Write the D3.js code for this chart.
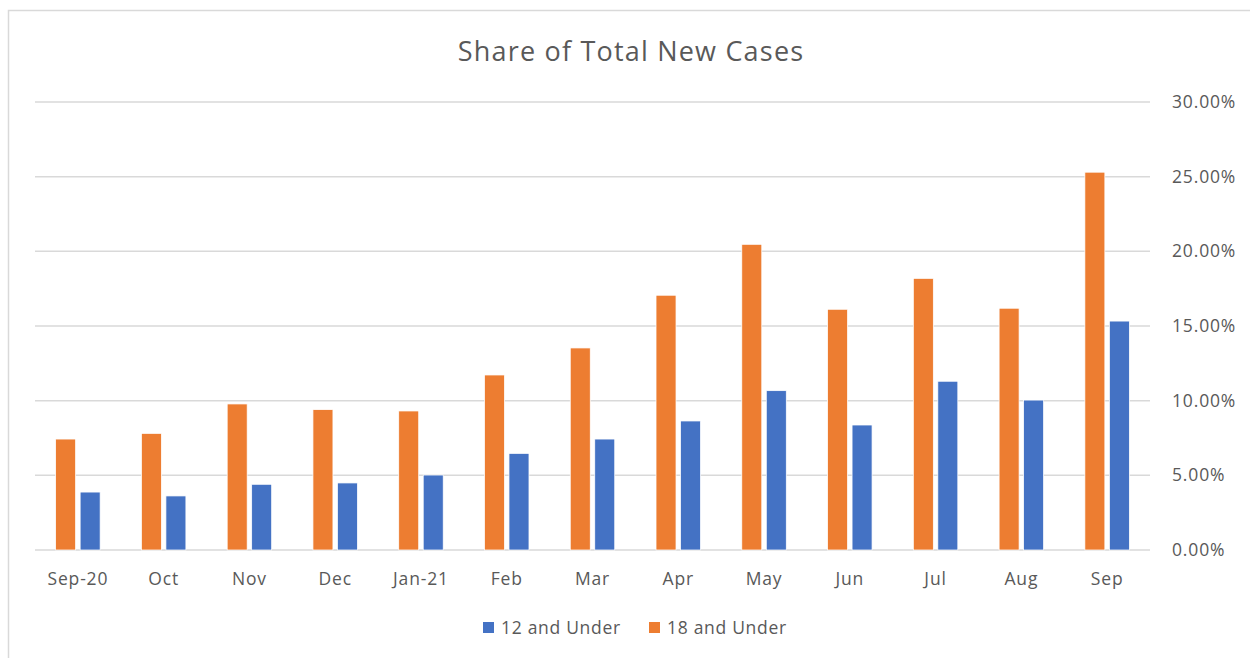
<!DOCTYPE html>
<html>
<head>
<meta charset="utf-8">
<script src="https://cdn.jsdelivr.net/npm/d3@7"></script>
<style>
  body { margin: 0; background: #fff; }
  svg text { font-family: "Open Sans", sans-serif; fill: #595959; }
</style>
</head>
<body>
<div id="chart"></div>
<script>
// chart data
var months = ["Sep-20", "Oct", "Nov", "Dec", "Jan-21", "Feb", "Mar", "Apr", "May", "Jun", "Jul", "Aug", "Sep"];
var under18 = [7.43, 7.81, 9.78, 9.40, 9.31, 11.72, 13.53, 17.06, 20.47, 16.12, 18.19, 16.19, 25.30];
var under12 = [3.88, 3.62, 4.40, 4.49, 5.02, 6.47, 7.43, 8.64, 10.67, 8.37, 11.30, 10.04, 15.33];
var yTicks = [0, 5, 10, 15, 20, 25, 30];
var seriesNames = ["12 and Under", "18 and Under"];
var colors = { "12 and Under": "#4472C4", "18 and Under": "#ED7D31" };

var W = 1250, H = 658;
var plot = { left: 35, right: 1150, top: 102, bottom: 550 };

var svg = d3.select("#chart").append("svg")
    .attr("width", W)
    .attr("height", H);

// outer chart border (only top/left visible in the crop)
svg.append("rect")
    .attr("x", 8.5).attr("y", 10.5)
    .attr("width", W + 20).attr("height", H + 20)
    .attr("fill", "#fff")
    .attr("stroke", "#D9D9D9")
    .attr("stroke-width", 1.5);

var x = d3.scaleBand()
    .domain(months)
    .range([plot.left, plot.right])
    .paddingInner(0).paddingOuter(0);

var y = d3.scaleLinear()
    .domain([0, 30])
    .range([plot.bottom, plot.top]);

// gridlines
svg.append("g")
    .selectAll("line")
    .data(yTicks)
    .enter()
    .append("line")
    .attr("x1", plot.left).attr("x2", plot.right)
    .attr("y1", function (d) { return y(d); })
    .attr("y2", function (d) { return y(d); })
    .attr("stroke", "#D9D9D9")
    .attr("stroke-width", 1.5);

// right axis labels
var yAxis = svg.append("g")
    .attr("transform", "translate(" + (plot.right + 22) + ",0)")
    .call(d3.axisRight(y).tickValues(yTicks).tickSize(0).tickPadding(0)
        .tickFormat(function (d) { return d.toFixed(2) + "%"; }));
yAxis.select(".domain").remove();
yAxis.selectAll("text")
    .attr("font-size", "17.5px")
    .style("font-family", "Open Sans, sans-serif")
    .style("letter-spacing", "0.85px")
    .attr("fill", "#595959");

// bottom axis labels
var xAxis = svg.append("g")
    .attr("transform", "translate(0," + plot.bottom + ")")
    .call(d3.axisBottom(x).tickSize(0).tickPadding(23));
xAxis.select(".domain").remove();
xAxis.selectAll("text")
    .attr("font-size", "17.5px")
    .style("font-family", "Open Sans, sans-serif")
    .style("letter-spacing", "0.85px")
    .attr("fill", "#595959");

// bars
var barW = 20, gap = 4.5;
var rows = months.map(function (m, i) {
    return { month: m, a: under18[i], b: under12[i] };
});

var groups = svg.append("g")
    .selectAll("g")
    .data(rows)
    .enter()
    .append("g")
    .attr("transform", function (d) { return "translate(" + (x(d.month) + x.bandwidth() / 2) + ",0)"; });

groups.append("rect")
    .attr("x", -gap / 2 - barW)
    .attr("y", function (d) { return y(d.a); })
    .attr("width", barW)
    .attr("height", function (d) { return y(0) - y(d.a); })
    .attr("fill", colors["18 and Under"])
    .attr("stroke", "#fff").attr("stroke-width", 0.75);

groups.append("rect")
    .attr("x", gap / 2)
    .attr("y", function (d) { return y(d.b); })
    .attr("width", barW)
    .attr("height", function (d) { return y(0) - y(d.b); })
    .attr("fill", colors["12 and Under"])
    .attr("stroke", "#fff").attr("stroke-width", 0.75);

// title
svg.append("text")
    .attr("x", 631)
    .attr("y", 61)
    .attr("text-anchor", "middle")
    .attr("font-size", "27px")
    .style("letter-spacing", "1.2px")
    .text("Share of Total New Cases");

// legend
var legendX = [483, 649];
var legend = svg.append("g")
    .selectAll("g")
    .data(seriesNames)
    .enter()
    .append("g")
    .attr("transform", function (d, i) { return "translate(" + legendX[i] + ",622)"; });

legend.append("rect")
    .attr("width", 11).attr("height", 11)
    .attr("fill", function (d) { return colors[d]; });

legend.append("text")
    .attr("x", 18)
    .attr("y", 11.5)
    .attr("font-size", "17.5px")
    .style("letter-spacing", "0.7px")
    .text(function (d) { return d; });
</script>
</body>
</html>
